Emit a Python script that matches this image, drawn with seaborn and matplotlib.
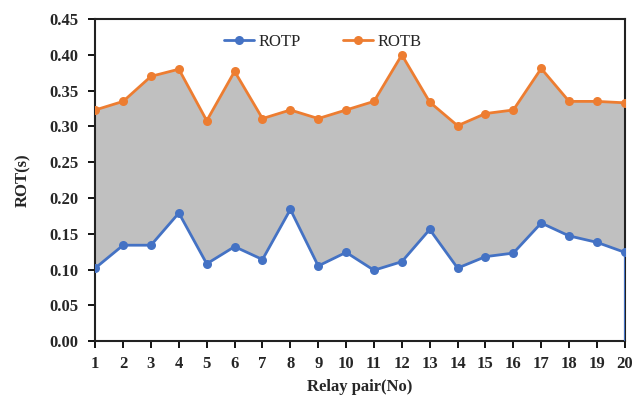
import matplotlib
matplotlib.use("Agg")
import matplotlib.pyplot as plt
import seaborn as sns
import pandas as pd

relay_pairs = list(range(1, 21))
rotp = [0.102, 0.134, 0.134, 0.179, 0.108, 0.132, 0.114, 0.184, 0.105, 0.124,
        0.099, 0.111, 0.156, 0.102, 0.118, 0.123, 0.165, 0.147, 0.138, 0.124]
rotb = [0.323, 0.335, 0.370, 0.380, 0.308, 0.377, 0.311, 0.323, 0.311, 0.323,
        0.335, 0.400, 0.334, 0.301, 0.318, 0.323, 0.381, 0.335, 0.335, 0.333]
y_ticks = [0.00, 0.05, 0.10, 0.15, 0.20, 0.25, 0.30, 0.35, 0.40, 0.45]

sns.set_style("white")
plt.rcParams['font.family'] = ['Liberation Serif', 'DejaVu Serif']

df = pd.DataFrame({"pair": relay_pairs, "ROTP": rotp, "ROTB": rotb})

fig = plt.figure(figsize=(6.35, 3.98), dpi=100)
ax = fig.add_axes([0.150, 0.143, 0.834, 0.809])

blue = "#4472C4"
orange = "#ED7D31"

ax.fill_between(df["pair"], df["ROTP"], df["ROTB"], color="#c0c0c0", lw=0, zorder=1)
sns.lineplot(data=df, x="pair", y="ROTP", ax=ax, color=blue, marker="o",
             markersize=6.5, markeredgewidth=0, linewidth=2, label="ROTP", zorder=3)
sns.lineplot(data=df, x="pair", y="ROTB", ax=ax, color=orange, marker="o",
             markersize=6.5, markeredgewidth=0, linewidth=2, label="ROTB", zorder=3)
ax.vlines(df["pair"].iloc[-1], 0, df["ROTP"].iloc[-1], color=blue, lw=1.5, zorder=3)

ax.set_xlim(1, 20)
ax.set_ylim(0, 0.45)
ax.set_xticks(relay_pairs)
ax.set_xticklabels([str(v) for v in relay_pairs], fontweight="bold", fontsize=12)
ax.set_yticks(y_ticks)
ax.set_yticklabels([f"{v:.2f}" for v in y_ticks], fontweight="bold", fontsize=12)
ax.tick_params(axis="both", direction="out", length=5, width=1.3, color="black",
               bottom=True, left=True)
ax.tick_params(axis="x", pad=6)
ax.tick_params(axis="y", pad=7)

for s in ax.spines.values():
    s.set_color("#222222")
    s.set_linewidth(1.5)

ax.set_xlabel("Relay pair(No)", fontweight="bold", fontsize=12, labelpad=5)
ax.set_ylabel("ROT(s)", fontweight="bold", fontsize=12, labelpad=13)

ax.legend(loc="upper center", bbox_to_anchor=(0.43, 1.0), ncol=2, frameon=False,
          fontsize=12, handlelength=1.8, columnspacing=2.5, handletextpad=0.3)

fig.savefig("out.png", dpi=100)
